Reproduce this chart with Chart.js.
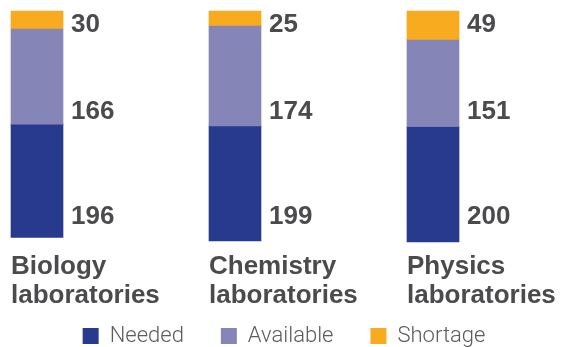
<!DOCTYPE html>
<html>
<head>
<meta charset="utf-8">
<script src="https://cdn.jsdelivr.net/npm/chart.js@4/dist/chart.umd.min.js"></script>
<style>
  html, body { margin: 0; padding: 0; background: #ffffff; }
  canvas { display: block; }
</style>
</head>
<body>
<canvas id="c" width="561" height="347"></canvas>
<script>
// ---- Data ----
const categories = [["Biology", "laboratories"], ["Chemistry", "laboratories"], ["Physics", "laboratories"]];
const needed    = [196, 199, 200];
const available = [166, 174, 151];
const shortage  = [30, 25, 49];
const seriesNames = ["Needed", "Available", "Shortage"];
const axisMax = 400;

// ---- Styles ----
const COLORS = { needed: "#273a8e", available: "#8685b8", shortage: "#f8ab1e" };
const TEXT = "#4b4b4d";
const BOLD_FONT = "bold 26px 'Liberation Sans', Arial, sans-serif";

// Value labels (right of each bar) and category labels (under each bar)
const textLabels = {
  id: "textLabels",
  afterDatasetsDraw(chart) {
    const ctx = chart.ctx;
    const area = chart.chartArea;
    const xScale = chart.scales.x;
    const baselines = [21, 108, 213]; // px below chart top, per dataset
    ctx.save();
    ctx.font = BOLD_FONT;
    ctx.fillStyle = TEXT;
    ctx.textAlign = "left";
    ctx.textBaseline = "alphabetic";
    chart.data.datasets.forEach((ds, di) => {
      const meta = chart.getDatasetMeta(di);
      meta.data.forEach((bar, i) => {
        const x = bar.x + bar.width / 2 + 8;
        ctx.fillText(String(ds.data[i]), x, area.top + baselines[di]);
      });
    });
    // category labels, left-aligned with bar left edge
    const barHalf = chart.getDatasetMeta(0).data[0].width / 2;
    chart.data.labels.forEach((lab, i) => {
      const x = xScale.getPixelForValue(i) - barHalf;
      const lines = Array.isArray(lab) ? lab : [lab];
      lines.forEach((t, li) => {
        ctx.fillText(t, x, area.bottom + 32 + li * 28.5);
      });
    });
    ctx.restore();
  }
};

new Chart(document.getElementById("c"), {
  type: "bar",
  data: {
    labels: categories,
    datasets: [
      { label: seriesNames[2], data: shortage,  backgroundColor: COLORS.shortage,  barThickness: 52, clip: false },
      { label: seriesNames[1], data: available, backgroundColor: COLORS.available, barThickness: 52, clip: false },
      { label: seriesNames[0], data: needed,    backgroundColor: COLORS.needed,    barThickness: 52, clip: false }
    ]
  },
  options: {
    responsive: false,
    devicePixelRatio: 1,
    animation: false,
    layout: { padding: { top: 11, left: 7, right: 0, bottom: -10 } },
    plugins: {
      tooltip: { enabled: false },
      legend: {
        position: "bottom",
        reverse: true,
        labels: {
          boxWidth: 16,
          boxHeight: 16,
          padding: 37,
          color: "#5c5c5e",
          font: { family: "Roboto", size: 22, weight: "300" }
        }
      }
    },
    scales: {
      x: {
        stacked: true,
        offset: false,
        grid: { display: false, drawTicks: false },
        border: { display: false },
        ticks: { display: false },
        afterFit(s) { s.height = 46; s.paddingLeft = 0; s.paddingRight = 0; }
      },
      y: {
        stacked: true,
        reverse: true,
        min: 0,
        max: axisMax,
        position: "left",
        grid: { display: false, drawTicks: false },
        border: { display: false },
        ticks: { display: false },
        afterFit(s) { s.width = 30; s.paddingTop = 0; s.paddingBottom = 0; }
      },
      y2: {
        type: "linear",
        position: "right",
        grid: { display: false, drawTicks: false },
        border: { display: false },
        ticks: { display: false },
        afterFit(s) { s.width = 128; s.paddingTop = 0; s.paddingBottom = 0; }
      }
    }
  },
  plugins: [textLabels]
});
</script>
</body>
</html>
